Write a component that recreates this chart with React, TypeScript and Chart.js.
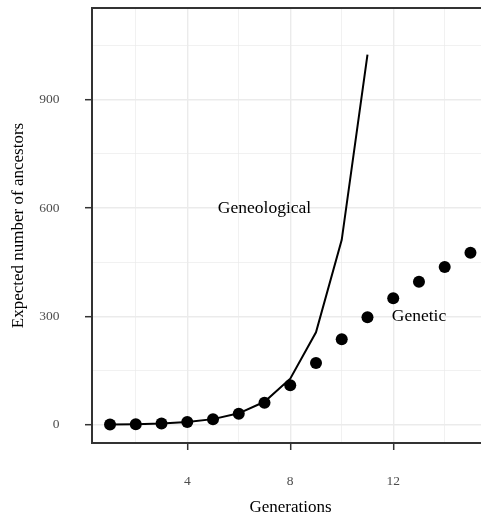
import { useEffect, useRef } from "react";
import { Chart, registerables } from "chart.js";

Chart.register(...registerables);

// ---- data ----
const generations = [1, 2, 3, 4, 5, 6, 7, 8, 9, 10, 11, 12, 13, 14, 15];
const geneticValues = [1, 2, 4, 8, 16, 31, 61, 110, 171, 237, 298, 350, 396, 437, 476];
const genealogicalGenerations = [1, 2, 3, 4, 5, 6, 7, 8, 9, 10, 11];
const genealogicalValues = [1, 2, 4, 8, 16, 32, 64, 128, 256, 512, 1024];

const xMajorTicks = [4, 8, 12];
const xAllGrid = [2, 4, 6, 8, 10, 12, 14];
const yMajorTicks = [0, 300, 600, 900];
const yAllGrid = [0, 150, 300, 450, 600, 750, 900, 1050];

const annotationTexts = ["Geneological", "Genetic"];
const annotationX = [7, 13];
const annotationY = [600, 300];

const xTitle = "Generations";
const yTitle = "Expected number of ancestors";

const FONT = "'Liberation Serif', 'Times New Roman', serif";

export default function App() {
  const canvasRef = useRef<HTMLCanvasElement | null>(null);

  useEffect(() => {
    const canvas = canvasRef.current;
    if (!canvas) return;

    const annotationPlugin = {
      id: "annotationsAndBorder",
      afterDatasetsDraw(chart: any) {
        const { ctx, chartArea, scales } = chart;
        ctx.save();
        ctx.fillStyle = "#000";
        ctx.font = `17.5px ${FONT}`;
        ctx.textAlign = "center";
        ctx.textBaseline = "middle";
        annotationTexts.forEach((t, i) => {
          ctx.fillText(
            t,
            scales.x.getPixelForValue(annotationX[i]),
            scales.y.getPixelForValue(annotationY[i])
          );
        });
        ctx.strokeStyle = "#333";
        ctx.lineWidth = 2;
        ctx.strokeRect(
          chartArea.left,
          chartArea.top,
          chartArea.right - chartArea.left,
          chartArea.bottom - chartArea.top
        );
        ctx.restore();
      },
    };

    const zeroPadding = (scale: any) => {
      scale.paddingTop = 0;
      scale.paddingBottom = 0;
      scale.paddingLeft = 0;
      scale.paddingRight = 0;
    };

    const chart = new Chart(canvas, {
      type: "scatter",
      data: {
        datasets: [
          {
            type: "scatter",
            label: "Genetic",
            data: generations.map((g, i) => ({ x: g, y: geneticValues[i] })),
            backgroundColor: "#000",
            borderWidth: 0,
            pointRadius: 6,
            pointHoverRadius: 6,
          },
          {
            type: "line",
            label: "Geneological",
            data: genealogicalGenerations.map((g, i) => ({ x: g, y: genealogicalValues[i] })),
            borderColor: "#000",
            borderWidth: 2,
            pointRadius: 0,
            tension: 0,
            fill: false,
          } as any,
        ],
      },
      options: {
        animation: false,
        responsive: false,
        maintainAspectRatio: false,
        layout: { padding: { top: 8, left: 0, right: 0, bottom: 0 } },
        plugins: {
          legend: { display: false },
          tooltip: { enabled: false },
        },
        scales: {
          x: {
            type: "linear",
            min: 0.3,
            max: 15.72,
            afterBuildTicks: (scale: any) => {
              scale.ticks = xAllGrid.map((v) => ({ value: v }));
            },
            afterFit: (scale: any) => {
              scale.height = 77;
              zeroPadding(scale);
            },
            ticks: {
              autoSkip: false,
              maxRotation: 0,
              padding: 23,
              color: "#4d4d4d",
              font: { family: FONT, size: 13.5 },
              callback: (v: any) => (xMajorTicks.includes(Number(v)) ? String(v) : ""),
            },
            grid: {
              color: "#ebebeb",
              lineWidth: (c: any) => (xMajorTicks.includes(c.tick?.value) ? 1.4 : 0.7),
              tickLength: 7,
              tickColor: (c: any) => (xMajorTicks.includes(c.tick?.value) ? "#333" : "rgba(0,0,0,0)"),
              tickWidth: 1.5,
            },
            border: { display: false },
            title: {
              display: true,
              text: xTitle,
              color: "#000",
              font: { family: FONT, size: 17 },
              padding: { top: 0, bottom: 2.5 },
            },
          },
          y: {
            type: "linear",
            min: -50,
            max: 1153,
            afterBuildTicks: (scale: any) => {
              scale.ticks = yAllGrid.map((v) => ({ value: v }));
            },
            afterFit: (scale: any) => {
              scale.width = 92;
              zeroPadding(scale);
            },
            ticks: {
              autoSkip: false,
              padding: 25.5,
              color: "#4d4d4d",
              font: { family: FONT, size: 13.5 },
              callback: (v: any) => (yMajorTicks.includes(Number(v)) ? String(v) : ""),
            },
            grid: {
              color: "#ebebeb",
              lineWidth: (c: any) => (yMajorTicks.includes(c.tick?.value) ? 1.4 : 0.7),
              tickLength: 7,
              tickColor: (c: any) => (yMajorTicks.includes(c.tick?.value) ? "#333" : "rgba(0,0,0,0)"),
              tickWidth: 1.5,
            },
            border: { display: false },
            title: {
              display: true,
              text: yTitle,
              color: "#000",
              font: { family: FONT, size: 17 },
              padding: { top: 8, bottom: 0 },
            },
          },
        },
      },
      plugins: [annotationPlugin],
    });

    return () => chart.destroy();
  }, []);

  return (
    <div
      style={{
        position: "fixed",
        left: 0,
        top: 0,
        width: 481,
        height: 520,
        overflow: "hidden",
        background: "#fff",
      }}
    >
      <canvas ref={canvasRef} width={495} height={520} style={{ display: "block", width: 495, height: 520 }} />
    </div>
  );
}
